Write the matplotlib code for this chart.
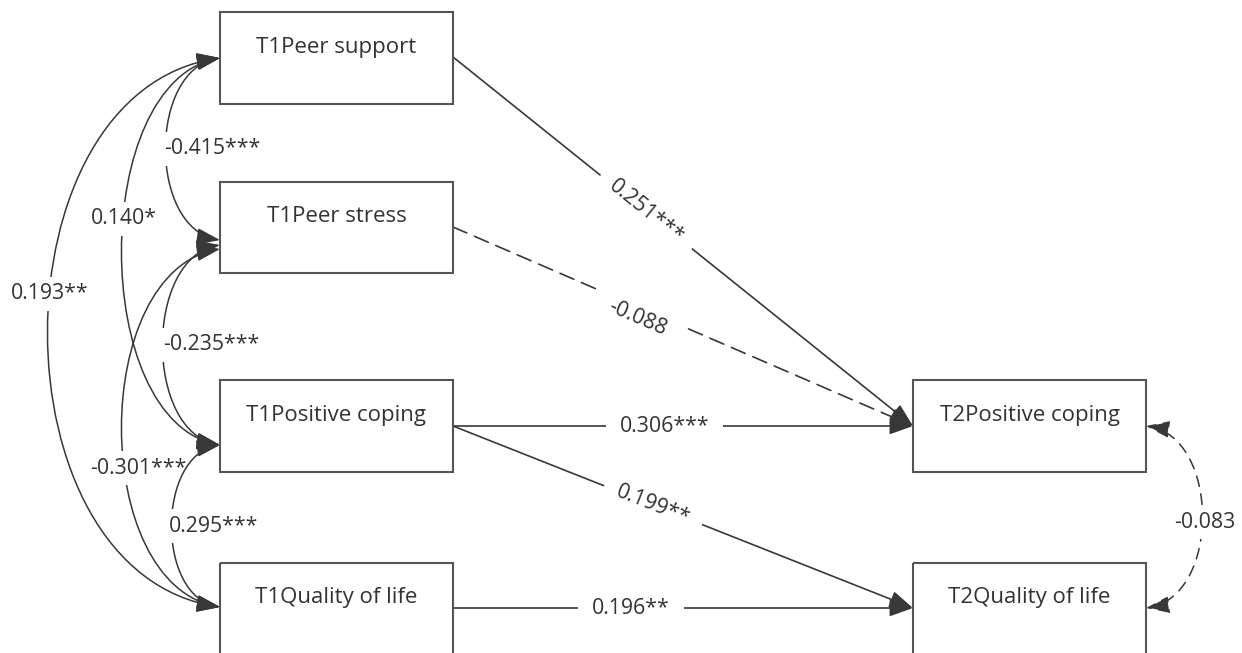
import numpy as np
import matplotlib
matplotlib.use("Agg")
import matplotlib.pyplot as plt
from matplotlib.patches import Rectangle, FancyArrowPatch
from matplotlib.path import Path

plt.rcParams['font.family'] = ['Open Sans', 'DejaVu Sans']

# ---------------- data ----------------
node_labels = ["T1Peer support", "T1Peer stress", "T1Positive coping",
               "T1Quality of life", "T2Positive coping", "T2Quality of life"]

# structural paths: (from, to)
path_from = [0, 1, 2, 2, 3]
path_to = [4, 4, 4, 5, 5]
path_coef = [0.251, -0.088, 0.306, 0.199, 0.196]
path_stars = ["***", "", "***", "**", "**"]

# covariances: (node a, node b)
cov_a = [0, 0, 0, 1, 1, 2, 4]
cov_b = [1, 2, 3, 2, 3, 3, 5]
cov_coef = [-0.415, 0.140, 0.193, -0.235, -0.301, 0.295, -0.083]
cov_stars = ["***", "*", "**", "***", "***", "***", ""]

# ---------------- layout (pixels) ----------------
W, H = 1242, 653
box_x = [220, 220, 220, 220, 913, 913]
box_y = [12, 182, 380, 563, 380, 563]
box_w = 233
box_h_list = [92, 91, 92, 140, 92, 140]

cov_ya = [58, 58, 58, 245, 249, 445, 426]
cov_yb = [240, 445, 607, 445, 607, 607, 608]
cov_xc = [166, 122, 48, 163, 122, 172, 1202]   # extreme x of the arc
cov_t = [0.5, 0.44, 0.45, 0.5, 0.58, 0.5, 0.52]
cov_dx = [46, 0, 0, 48, 14, 42, 3]               # label offset from arc

path_y0 = [57, 227, 426, 426, 608]
path_y1 = [426, 426, 426, 608, 608]
path_t = [0.42, 0.41, 0.46, 0.435, 0.387]
path_off = [0, 10, 0, 0, 0]                      # label offset normal to line

LC = "#383838"
TC = "#333333"
FS_BOX = 16
FS_LAB = 15.3
HEAD = "head_length=14.5,head_width=5.2"

fig = plt.figure(figsize=(W / 100, H / 100), dpi=100)
ax = fig.add_axes([0, 0, 1, 1])
ax.set_xlim(0, W)
ax.set_ylim(H, 0)
ax.axis("off")

# boxes
for i, lab in enumerate(node_labels):
    ax.add_patch(Rectangle((box_x[i], box_y[i]), box_w, box_h_list[i],
                           fill=False, edgecolor="#555555", lw=1.5, zorder=40))
    ax.text(box_x[i] + box_w / 2, box_y[i] + 35, lab, ha="center", va="center",
            fontsize=FS_BOX, color=TC, zorder=41)

def fmt(v, s):
    return f"{v:.3f}" + s

# straight paths
for k in range(len(path_coef)):
    a, b = path_from[k], path_to[k]
    x0, y0 = box_x[a] + box_w, path_y0[k]
    x1, y1 = box_x[b], path_y1[k]
    dashed = path_stars[k] == ""
    arr = FancyArrowPatch((x0, y0), (x1, y1),
                          arrowstyle="-|>," + HEAD,
                          mutation_scale=1, shrinkA=0, shrinkB=0,
                          color=LC, lw=1.2,
                          linestyle=(0, (9, 5)) if dashed else "-",
                          zorder=20)
    ax.add_patch(arr)
    t = path_t[k]
    L = np.hypot(x1 - x0, y1 - y0)
    nx, ny = -(y1 - y0) / L, (x1 - x0) / L
    lx = x0 + t * (x1 - x0) + path_off[k] * nx
    ly = y0 + t * (y1 - y0) + path_off[k] * ny
    ang = -np.degrees(np.arctan2(y1 - y0, x1 - x0))
    ax.text(lx, ly, fmt(path_coef[k], path_stars[k]), ha="center", va="center",
            rotation=ang, rotation_mode="anchor", fontsize=FS_LAB, color=TC,
            bbox=dict(facecolor="white", edgecolor="none", pad=10), zorder=21)

# covariance arcs
for k in range(len(cov_coef)):
    a, b = cov_a[k], cov_b[k]
    right = a >= 4
    xe = box_x[a] + box_w if right else box_x[a]
    ya, yb = cov_ya[k], cov_yb[k]
    xm = cov_xc[k]
    c = (8 * xm - 2 * xe) / 6
    d = 0.06 * (yb - ya)
    verts = [(xe, ya), (c, ya + d), (c, yb - d), (xe, yb)]
    pth = Path(verts, [Path.MOVETO, Path.CURVE4, Path.CURVE4, Path.CURVE4])
    ls = (0, (7, 5)) if cov_stars[k] == "" else "-"
    arr = FancyArrowPatch(path=pth, arrowstyle="<|-|>," + HEAD,
                          mutation_scale=1, color=LC, lw=1.1, linestyle=ls,
                          zorder=2 + 2 * k)
    ax.add_patch(arr)
    t = cov_t[k]
    v = np.array(verts, dtype=float)
    bx, by = ((1 - t) ** 3 * v[0] + 3 * (1 - t) ** 2 * t * v[1]
              + 3 * (1 - t) * t ** 2 * v[2] + t ** 3 * v[3])
    ax.text(bx + cov_dx[k], by, fmt(cov_coef[k], cov_stars[k]), ha="center",
            va="center", fontsize=FS_LAB, color=TC,
            bbox=dict(facecolor="white", edgecolor="none", pad=4.5),
            zorder=3 + 2 * k)

fig.savefig("out.png", dpi=100, facecolor="white")
